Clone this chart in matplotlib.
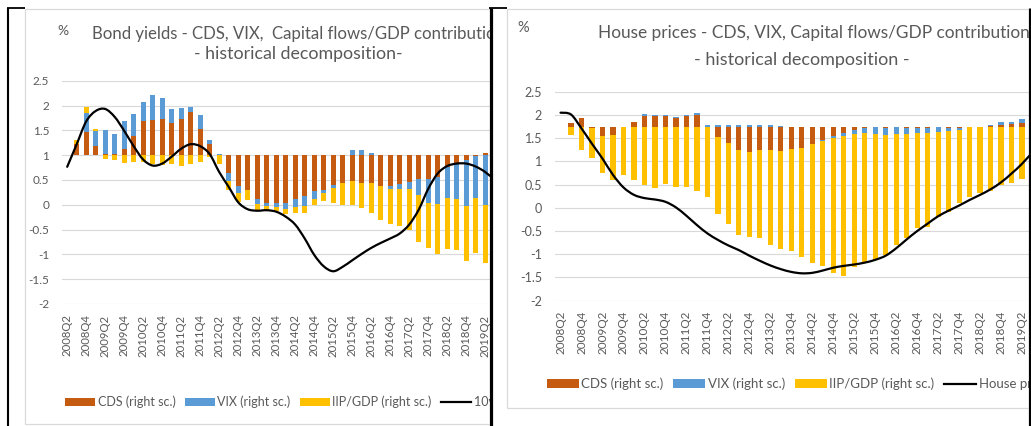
import numpy as np
import matplotlib
matplotlib.use("Agg")
import matplotlib.pyplot as plt
from matplotlib.path import Path
from matplotlib.patches import PathPatch, Patch, Rectangle
from matplotlib.lines import Line2D

plt.rcParams['font.family'] = ['Lato', 'DejaVu Sans']

nan = np.nan

quarters = ["2008Q2", "2008Q3", "2008Q4",
            "2009Q1", "2009Q2", "2009Q3", "2009Q4",
            "2010Q1", "2010Q2", "2010Q3", "2010Q4",
            "2011Q1", "2011Q2", "2011Q3", "2011Q4",
            "2012Q1", "2012Q2", "2012Q3", "2012Q4",
            "2013Q1", "2013Q2", "2013Q3", "2013Q4",
            "2014Q1", "2014Q2", "2014Q3", "2014Q4",
            "2015Q1", "2015Q2", "2015Q3", "2015Q4",
            "2016Q1", "2016Q2", "2016Q3", "2016Q4",
            "2017Q1", "2017Q2", "2017Q3", "2017Q4",
            "2018Q1", "2018Q2", "2018Q3", "2018Q4",
            "2019Q1", "2019Q2", "2019Q3"]

series_names = ["CDS (right sc.)", "VIX (right sc.)", "IIP/GDP (right sc.)"]
series_colors = ["#C55A11", "#5B9BD5", "#FFC000"]

# ---- Bond yields panel (bars: right scale, 0 at 1 on left scale) ----
bond_base = 1.0
bond_cds = [nan, 0.23, 0.47, 0.18, 0.02, 0.02, 0.13, 0.38, 0.69, 0.70,
            0.72, 0.65, 0.73, 0.86, 0.53, 0.23, 0.00, -0.37, -0.625, -0.71,
            -0.88, -0.96, -0.97, -0.96, -0.874, -0.83, -0.72, -0.71, -0.60, -0.57,
            -0.52, -0.56, -0.56, -0.62, -0.625, -0.585, -0.54, -0.49, -0.49, -0.44,
            -0.24, -0.17, -0.10, -0.01, 0.05, nan]
bond_vix = [nan, 0.00, 0.37, 0.31, 0.48, 0.40, 0.55, 0.45, 0.38, 0.52,
            0.44, 0.28, 0.22, 0.10, 0.28, 0.08, 0.02, -0.15, -0.135, 0.00,
            -0.11, -0.07, -0.08, -0.135, -0.18, -0.20, -0.17, -0.05, -0.06, 0.00,
            0.11, 0.11, 0.05, 0.00, -0.05, -0.10, -0.15, -0.32, -0.47, -0.55,
            -0.63, -0.72, -0.93, -0.85, -1.00, nan]
bond_iip = [nan, 0.07, 0.13, 0.03, -0.07, -0.10, -0.15, -0.13, -0.13, -0.17,
            -0.20, -0.18, -0.22, -0.17, -0.13, -0.03, -0.17, -0.19, -0.19, -0.19,
            -0.12, -0.07, -0.08, -0.085, -0.105, -0.13, -0.12, -0.16, -0.31, -0.43,
            -0.49, -0.50, -0.60, -0.68, -0.72, -0.74, -0.82, -0.94, -0.92, -1.01,
            -1.03, -1.03, -1.11, -1.12, -1.17, nan]
bond_yield = [0.765, 1.22, 1.68, 1.89, 1.93, 1.77, 1.49, 1.18, 0.91, 0.79,
              0.83, 0.97, 1.13, 1.22, 1.18, 1.02, 0.66, 0.36, 0.05, -0.09,
              -0.12, -0.11, -0.14, -0.24, -0.40, -0.68, -1.01, -1.24, -1.34, -1.25,
              -1.12, -0.99, -0.87, -0.77, -0.68, -0.58, -0.40, -0.10, 0.32, 0.63,
              0.78, 0.83, 0.83, 0.77, 0.66, 0.50]

# ---- House prices panel (bars: right scale, 0 at 1.75 on left scale) ----
house_base = 1.75
house_cds = [nan, 0.07, 0.18, -0.03, -0.20, -0.18, -0.01, 0.11, 0.23, 0.22,
             0.22, 0.18, 0.23, 0.245, 0.00, -0.23, -0.345, -0.50, -0.54, -0.50,
             -0.50, -0.53, -0.49, -0.45, -0.38, -0.28, -0.20, -0.14, -0.07, -0.02,
             -0.01, -0.03, -0.01, -0.03, -0.03, -0.02, -0.01, -0.02, -0.02, -0.01,
             0.00, 0.02, 0.04, 0.05, 0.07, nan]
house_vix = [nan, 0.00, 0.00, 0.00, 0.00, 0.00, 0.00, 0.00, 0.04, 0.03,
             0.03, 0.03, 0.02, 0.04, 0.04, 0.03, 0.04, 0.04, 0.03, 0.03,
             0.03, 0.02, 0.00, 0.00, 0.00, -0.02, -0.04, -0.07, -0.09, -0.11,
             -0.15, -0.15, -0.15, -0.12, -0.11, -0.11, -0.10, -0.08, -0.06, 0.00,
             0.00, 0.01, 0.07, 0.06, 0.09, nan]
house_iip = [nan, -0.19, -0.50, -0.65, -0.79, -0.97, -1.03, -1.15, -1.26, -1.33,
             -1.24, -1.31, -1.31, -1.38, -1.51, -1.66, -1.75, -1.83, -1.83, -1.91,
             -2.05, -2.10, -2.20, -2.35, -2.55, -2.70, -2.91, -3.00, -2.86, -2.78,
             -2.72, -2.59, -2.39, -2.25, -2.05, -2.04, -1.84, -1.75, -1.57, -1.50,
             -1.44, -1.39, -1.26, -1.22, -1.13, nan]
house_price = [2.05, 2.01, 1.71, 1.38, 1.06, 0.71, 0.44, 0.28, 0.21, 0.18,
               0.13, 0.01, -0.17, -0.37, -0.55, -0.69, -0.81, -0.91, -1.03, -1.14,
               -1.24, -1.32, -1.38, -1.41, -1.40, -1.35, -1.29, -1.25, -1.22, -1.18,
               -1.12, -1.03, -0.87, -0.68, -0.50, -0.34, -0.18, -0.06, 0.05, 0.17,
               0.28, 0.40, 0.55, 0.74, 0.95, 1.20]

left_ticks = [-2, -1.5, -1, -0.5, 0, 0.5, 1, 1.5, 2, 2.5]

GREY_TXT = "#595959"
GRID = "#D9D9D9"

W, H = 1031, 426
fig = plt.figure(figsize=(W / 100, H / 100), dpi=100)
fig.patch.set_facecolor("white")


def fx(x):
    return x / W


def fy(y):
    return 1 - y / H


def smooth_path(xs, ys):
    xs = list(xs)
    ys = list(ys)
    n = len(xs)
    verts = [(xs[0], ys[0])]
    codes = [Path.MOVETO]
    for k in range(n - 1):
        a = max(k - 1, 0)
        d = min(k + 2, n - 1)
        c1 = (xs[k] + (xs[k + 1] - xs[a]) / 6, ys[k] + (ys[k + 1] - ys[a]) / 6)
        c2 = (xs[k + 1] - (xs[d] - xs[k]) / 6, ys[k + 1] - (ys[d] - ys[k]) / 6)
        verts += [c1, c2, (xs[k + 1], ys[k + 1])]
        codes += [Path.CURVE4] * 3
    return Path(verts, codes)


def panel(x0, x1, ytop, ybot, xmax, base, comps, line, z, tick_fs, xtick_fs):
    ax = fig.add_axes([fx(x0), fy(ybot), fx(x1) - fx(x0), fy(ytop) - fy(ybot)])
    tw = ax.twinx()
    tw.set_zorder(z)
    ax.set_zorder(z + 1)
    ax.patch.set_visible(False)
    tw.patch.set_visible(False)
    x = np.arange(len(quarters))

    # bars on the (hidden) right scale
    tw.set_ylim(-2 - base, 2.5 - base)
    tw.set_yticks(np.array(left_ticks) - base)
    tw.yaxis.grid(True, color=GRID, lw=0.8)
    tw.set_axisbelow(True)
    tw.tick_params(right=False, labelright=False, left=False, bottom=False)
    pos = np.zeros(len(x))
    neg = np.zeros(len(x))
    for vals, col in zip(comps, series_colors):
        v = np.nan_to_num(np.array(vals, dtype=float))
        bottom = np.where(v >= 0, pos, neg)
        tw.bar(x, v, width=0.5, bottom=bottom, color=col, linewidth=0, zorder=2)
        pos += np.clip(v, 0, None)
        neg += np.clip(v, None, 0)

    # line on left scale
    ax.add_patch(PathPatch(smooth_path(x, line), fill=False, ec="black", lw=1.6,
                           capstyle="round", joinstyle="round", zorder=3))
    ax.set_xlim(-0.5, xmax)
    ax.set_ylim(-2, 2.5)
    ax.set_yticks(left_ticks)
    ax.set_yticklabels([f"{t:g}" for t in left_ticks])
    ax.set_xticks(x[::2])
    ax.set_xticklabels(quarters[::2], rotation=90)
    ax.tick_params(axis="y", length=0, pad=9.5, labelsize=tick_fs, labelcolor=GREY_TXT)
    ax.tick_params(axis="x", length=0, pad=7.5, labelsize=xtick_fs, labelcolor=GREY_TXT)
    for a in (ax, tw):
        for s in a.spines.values():
            s.set_visible(False)
    return ax


def legend(x, y, line_label, fs, zorder):
    handles = [Patch(facecolor=c, edgecolor="none") for c in series_colors]
    handles.append(Line2D([], [], color="black", lw=1.6))
    leg = fig.legend(handles, series_names + [line_label], loc="center left",
                     bbox_to_anchor=(fx(x), fy(y)), ncol=4, frameon=False,
                     fontsize=fs, handlelength=2.4, handleheight=0.6,
                     handletextpad=0.2, columnspacing=0.75, borderpad=0,
                     borderaxespad=0, labelcolor=GREY_TXT)
    leg.set_zorder(zorder)
    return leg


# ---------------- left panel ----------------
panel(62.45, 490, 80.7, 304, (490 - 67.2) / 9.5, bond_base,
      [bond_cds, bond_vix, bond_iip], bond_yield, 1, 8.5, 8.2)
fig.text(fx(62.5), fy(31), "%", fontsize=10, color=GREY_TXT, ha="center", va="center", zorder=3)
fig.text(fx(92), fy(34), "Bond yields - CDS, VIX,  Capital flows/GDP contribution",
         fontsize=12.1, color=GREY_TXT, ha="left", va="center", zorder=3)
fig.text(fx(298.5), fy(54), "- historical decomposition-",
         fontsize=12.8, color=GREY_TXT, ha="center", va="center", zorder=3)
legend(65, 401.7, "10y bond yield", 9, 3)

# white cover for the right part (crop of the left screenshot)
fig.add_artist(Rectangle((fx(490), 0), 1 - fx(490), 1, transform=fig.transFigure,
                         facecolor="white", edgecolor="none", zorder=4))

# ---------------- right panel ----------------
panel(555.3, 1028.5, 91.8, 300.7, (1028.5 - 560.5) / 10.49, house_base,
      [house_cds, house_vix, house_iip], house_price, 5, 9, 8.5)
fig.text(fx(523.5), fy(28.5), "%", fontsize=10.5, color=GREY_TXT, ha="center", va="center", zorder=7)
fig.text(fx(597.5), fy(32.7), "House prices - CDS, VIX, Capital flows/GDP contribution",
         fontsize=12.4, color=GREY_TXT, ha="left", va="center", zorder=7)
fig.text(fx(802), fy(60), "- historical decomposition -",
         fontsize=13, color=GREY_TXT, ha="center", va="center", zorder=7)
legend(547, 384, "House prices", 9.5, 7)


# ---------------- frames ----------------
def fline(xs, ys, color, lw, z=9):
    fig.add_artist(Line2D([fx(v) for v in xs], [fy(v) for v in ys],
                          transform=fig.transFigure, color=color, lw=lw,
                          solid_capstyle="butt", zorder=z))


fline([25, 489], [9.3, 9.3], GRID, 0.9)
fline([25, 25], [9.3, 424], GRID, 0.9)
fline([25, 489], [424, 424], GRID, 0.9)
fline([507, 1028], [9.3, 9.3], GRID, 0.9)
fline([507, 507], [9.3, 408], GRID, 0.9)
fline([507, 1028], [408, 408], GRID, 0.9)
fline([7.5, 7.5], [7.5, 426], "black", 1.5)
fline([7, 25], [8.2, 8.2], "black", 1.3)
fline([489, 507], [8.2, 8.2], "black", 1.3)
fline([490.5, 490.5], [7.5, 426], "black", 2.3)
fline([1029.5, 1029.5], [7.5, 426], "black", 2.3)

fig.savefig("out.png", dpi=100, facecolor="white")
